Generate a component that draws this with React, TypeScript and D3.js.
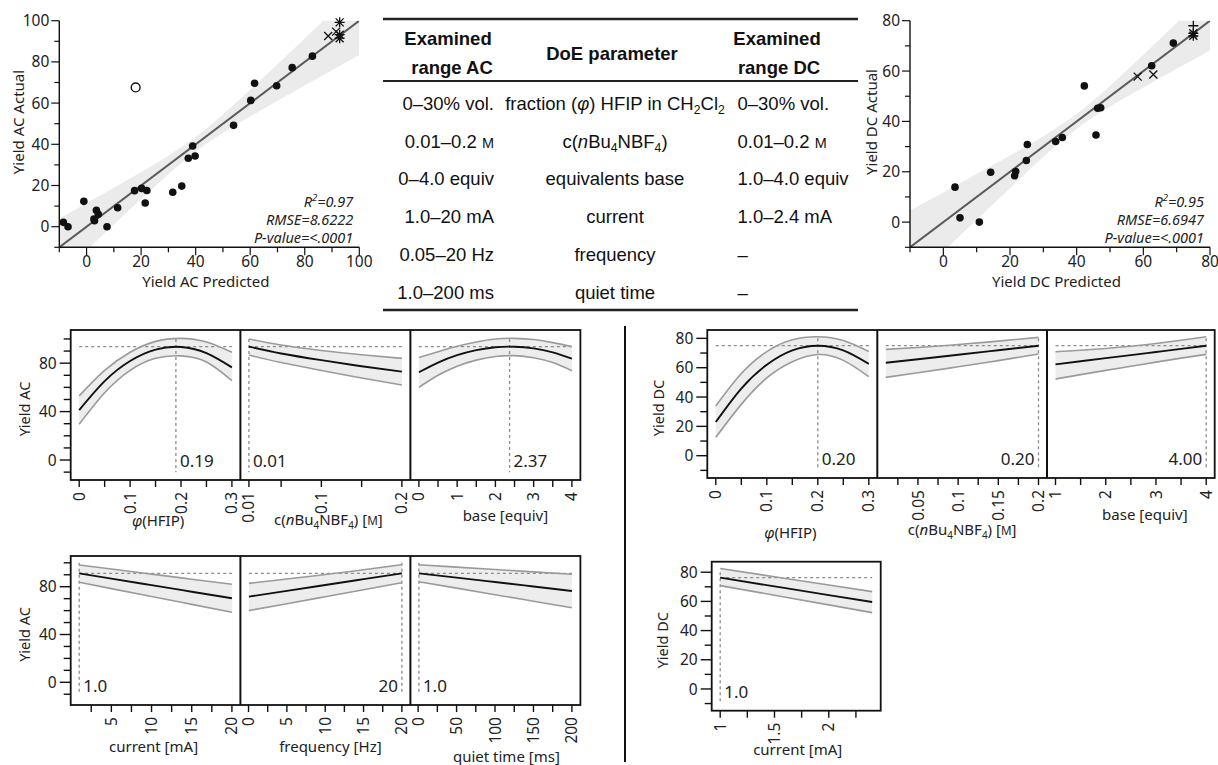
import React from 'react';
import * as d3 from 'd3';

const FONT = "'Noto Sans', 'Open Sans', 'DejaVu Sans', sans-serif";
const TABLE_FONT = "'Liberation Sans', Arial, Helvetica, sans-serif";

// ---------- actual by predicted, AC ----------
const acPredicted = [-8.5, -6.8, -1, 2.7, 2.9, 3.6, 4.3, 7.5, 11.4, 17.6, 20.2, 21.5, 22.1, 31.6, 34.9, 37.3, 38.9, 39.8, 53.9, 60.2, 61.6, 69.7, 75.4, 82.8];
const acActual = [2.1, 0, 12.3, 3.7, 2.9, 8, 6, 0, 9.2, 17.5, 18.6, 11.5, 17.6, 16.7, 19.7, 33.2, 39.2, 34.3, 49.2, 61.3, 69.6, 68.4, 77.2, 82.8];
const acOpenPredicted = [18];
const acOpenActual = [67.6];
const acCrossPredicted = [88.6, 91.5];
const acCrossActual = [92.6, 94.7];
const acStarPredicted = [92.8, 92.8, 92.8];
const acStarActual = [99.2, 93.2, 91.5];
const acBandX = [-10, 0, 10, 20, 30, 40, 50, 60, 70, 80, 90, 100];
const acBandLow = [-24, -11.4, 1.1, 13.5, 25.5, 36.5, 45.5, 53.5, 61.1, 68.6, 76, 83.3];
const acBandHigh = [4, 11.4, 18.9, 26.5, 34.5, 43.5, 54.5, 66.5, 78.9, 91.4, 104, 116.7];
const acStats = ['0.97', '8.6222', '<.0001'];

// ---------- actual by predicted, DC ----------
const dcPredicted = [3.5, 5, 10.8, 14.2, 21.4, 21.7, 24.9, 25.2, 33.7, 35.7, 42.3, 45.8, 46.3, 47.2, 62.5, 69];
const dcActual = [13.9, 1.7, 0, 19.8, 18.4, 20.1, 24.5, 30.8, 32, 33.6, 54.1, 34.6, 45.2, 45.4, 62.1, 71.1];
const dcCrossPredicted = [58.3, 63];
const dcCrossActual = [57.8, 58.6];
const dcStarPredicted = [75, 75];
const dcStarActual = [75, 74];
const dcPlusPredicted = [75];
const dcPlusActual = [78];
const dcBandX = [-10, 0, 10, 20, 30, 40, 50, 60, 70, 80];
const dcBandLow = [-24.6, -11.8, 0.9, 13.5, 25.9, 37, 45.9, 53.5, 60.9, 68.2];
const dcBandHigh = [4.6, 11.8, 19.1, 26.5, 34.1, 43, 54.1, 66.5, 79.1, 91.8];
const dcStats = ['0.95', '6.6947', '<.0001'];

// ---------- table (markup: _italic_, ~sub~, ^small caps^) ----------
const rangeAC = ['0–30% vol.', '0.01–0.2 ^M^', '0–4.0 equiv', '1.0–20 mA', '0.05–20 Hz', '1.0–200 ms'];
const doeParameter = ['fraction (_φ_) HFIP in CH~2~Cl~2~', 'c(_n_Bu~4~NBF~4~)', 'equivalents base', 'current', 'frequency', 'quiet time'];
const rangeDC = ['0–30% vol.', '0.01–0.2 ^M^', '1.0–4.0 equiv', '1.0–2.4 mA', '–', '–'];

// ---------- prediction profiles ----------
const phiX = [0, 0.05, 0.1, 0.15, 0.2, 0.25, 0.3];
const phiTicks = [0, 0.05, 0.1, 0.15, 0.2, 0.25, 0.3];
const phiLabels = ['0', '0.1', '0.2', '0.3'];
const concX = [0.01, 0.05, 0.1, 0.15, 0.2];
const acConcTicks = [0.01, 0.05, 0.1, 0.15, 0.2];
const acConcLabels = ['0.01', '0.1', '0.2'];
const dcConcTicks = [0.025, 0.05, 0.075, 0.1, 0.125, 0.15, 0.175, 0.2];
const dcConcLabels = ['0.05', '0.1', '0.15', '0.2'];
const acBaseX = [0, 0.5, 1, 1.5, 2, 2.5, 3, 3.5, 4];
const acBaseLabels = ['0', '1', '2', '3', '4'];
const dcBaseX = [1, 1.5, 2, 2.5, 3, 3.5, 4];
const dcBaseLabels = ['1', '2', '3', '4'];
const acCurrentX = [1, 5, 10, 15, 20];
const acCurrentTicks = [2.5, 5, 7.5, 10, 12.5, 15, 17.5, 20];
const acCurrentLabels = ['5', '10', '15', '20'];
const freqX = [0.05, 5, 10, 15, 20];
const freqTicks = [0, 2.5, 5, 7.5, 10, 12.5, 15, 17.5, 20];
const freqLabels = ['0', '5', '10', '15', '20'];
const quietX = [1, 50, 100, 150, 200];
const quietTicks = [0, 25, 50, 75, 100, 125, 150, 175, 200];
const quietLabels = ['0', '50', '100', '150', '200'];
const dcCurrentX = [1, 1.5, 2, 2.4];
const dcCurrentTicks = [1, 1.25, 1.5, 1.75, 2, 2.25];
const dcCurrentLabels = ['1', '1.5', '2'];

const acYieldLabels = [0, 40, 80];
const dcYieldLabels = [0, 20, 40, 60, 80];

const acPhiMid = [41.3, 65.2, 81.8, 91.2, 93.4, 88.3, 76.5];
const acPhiHi = [53, 74, 89, 98, 100.5, 97.5, 89];
const acPhiLo = [29.5, 55.5, 74, 84, 86, 81, 65.6];
const acConcMid = [93.7, 88, 82.5, 77.5, 73];
const acConcHi = [100, 95, 90.5, 87, 84];
const acConcLo = [86.8, 80.5, 74, 67.8, 62];
const acBaseMid = [72.5, 80.5, 86.6, 90.8, 93.2, 93.6, 92.2, 88.9, 83.7];
const acBaseHi = [84.6, 89.5, 94, 97.5, 100, 100.5, 99.5, 97, 93.7];
const acBaseLo = [60, 70, 77.5, 82.5, 85.5, 86.2, 84.5, 80.5, 73.8];
const acCurrentMid = [91.2, 86.8, 81.3, 75.8, 70.3];
const acCurrentHi = [98.2, 94.8, 90.5, 86.3, 82];
const acCurrentLo = [83.7, 78.4, 71.8, 65.2, 58.6];
const acFreqMid = [71.7, 76.5, 81.4, 86.3, 91.2];
const acFreqHi = [82.8, 86.5, 90.2, 94.2, 98.4];
const acFreqLo = [60, 65.8, 71.6, 77.5, 83.3];
const acQuietMid = [91.2, 87.6, 83.9, 80.2, 76.4];
const acQuietHi = [98.4, 96.4, 94.4, 92.4, 90.4];
const acQuietLo = [84.2, 78.8, 73.3, 67.9, 62.4];

const dcPhiMid = [23, 45.8, 62, 71.8, 75, 71.8, 62.6];
const dcPhiHi = [33.9, 56, 71, 79, 81.1, 78.5, 71];
const dcPhiLo = [12.5, 35, 53, 64, 69, 65, 53.9];
const dcConcMid = [63.4, 65.8, 68.8, 71.9, 75];
const dcConcHi = [72.5, 73.8, 75.8, 78.1, 80.7];
const dcConcLo = [53.4, 56.6, 60.6, 64.8, 69.3];
const dcBaseMid = [62.3, 64.4, 66.5, 68.6, 70.7, 72.8, 75];
const dcBaseHi = [70.9, 71.9, 73.1, 74.6, 76.5, 78.7, 81.1];
const dcBaseLo = [52.3, 55.3, 58.2, 61, 63.8, 66.5, 69.1];
const dcCurrentMid = [76.3, 70.3, 64.3, 59.6];
const dcCurrentHi = [82.5, 76.9, 71.2, 66.7];
const dcCurrentLo = [70.8, 64.2, 57.6, 52.3];

// ---------- small helpers ----------
function rich(text: string, size: number) {
  const parts = text.split(/(_[^_]+_|~[^~]+~|\^[^^]+\^)/).filter(Boolean);
  let shift = 0;
  return parts.map((p, i) => {
    if (p[0] === '~') {
      const dy = size * 0.24 - shift;
      shift = size * 0.24;
      return <tspan key={i} dy={dy} fontSize={size * 0.66}>{p.slice(1, -1)}</tspan>;
    }
    const dy = -shift;
    shift = 0;
    if (p[0] === '_') return <tspan key={i} dy={dy} fontStyle="italic">{p.slice(1, -1)}</tspan>;
    if (p[0] === '^') return <tspan key={i} dy={dy} fontSize={size * 0.78}>{p.slice(1, -1)}</tspan>;
    return <tspan key={i} dy={dy}>{p}</tspan>;
  });
}

const CROSS = 'M-4,-4L4,4M-4,4L4,-4';
const PLUS = 'M0,-5L0,5M-5,0L5,0';
const STAR = CROSS + PLUS;

type Box = { left: number; right: number; top: number; bottom: number };

function Scatter(props: {
  id: string; box: Box; max: number;
  px: number[]; py: number[];
  ox?: number[]; oy?: number[];
  cx: number[]; cy: number[];
  sx: number[]; sy: number[];
  plx?: number[]; ply?: number[];
  bandX: number[]; bandLow: number[]; bandHigh: number[];
  xTitle: string; yTitle: string; yTitleX: number; stats: string[];
}) {
  const { box, max } = props;
  const x = d3.scaleLinear().domain([-10, max]).range([box.left, box.right]);
  const y = d3.scaleLinear().domain([-10, max]).range([box.bottom, box.top]);
  const minor = d3.range(-10, max + 1, 10);
  const major = d3.range(0, max + 1, 20);
  const idx = d3.range(props.bandX.length);
  const band = d3.area<number>()
    .x(k => x(props.bandX[k])).y0(k => y(props.bandLow[k])).y1(k => y(props.bandHigh[k]))
    .curve(d3.curveNatural)(idx) || '';
  const marks = (xs: number[] = [], ys: number[] = [], d: string) =>
    xs.map((v, i) => (
      <path key={d + i} d={d} transform={`translate(${x(v)},${y(ys[i])})`} stroke="#111" strokeWidth={1.3} fill="none" />
    ));
  const sx = box.right - 6;
  return (
    <g fontFamily={FONT}>
      <clipPath id={props.id}>
        <rect x={box.left} y={box.top} width={box.right - box.left} height={box.bottom - box.top} />
      </clipPath>
      <g clipPath={`url(#${props.id})`}>
        <path d={band} fill="#ebebeb" />
        <line x1={x(-10)} y1={y(-10)} x2={x(max)} y2={y(max)} stroke="#5a5a5a" strokeWidth={2} />
      </g>
      {props.px.map((v, i) => (
        <circle key={i} cx={x(v)} cy={y(props.py[i])} r={3.8} fill="#111" />
      ))}
      {(props.ox || []).map((v, i) => (
        <circle key={'o' + i} cx={x(v)} cy={y(props.oy![i])} r={4.4} fill="none" stroke="#111" strokeWidth={1.4} />
      ))}
      {marks(props.cx, props.cy, CROSS)}
      {marks(props.sx, props.sy, STAR)}
      {marks(props.plx, props.ply, PLUS)}
      <line x1={box.left} x2={box.left} y1={box.top} y2={box.bottom} stroke="#111" strokeWidth={1.4} />
      <line x1={box.left} x2={box.right} y1={box.bottom} y2={box.bottom} stroke="#111" strokeWidth={1.4} />
      {minor.map(v => {
        const big = v % 20 === 0;
        return (
          <g key={v}>
            <line x1={box.left - (big ? 8 : 5)} x2={box.left} y1={y(v)} y2={y(v)} stroke="#111" strokeWidth={1.2} />
            <line x1={x(v)} x2={x(v)} y1={box.bottom} y2={box.bottom + (big ? 8 : 5)} stroke="#111" strokeWidth={1.2} />
          </g>
        );
      })}
      {major.map(v => (
        <g key={'l' + v} fontSize={15.5} fill="#222">
          <text x={box.left - 10} y={y(v)} dy="0.36em" textAnchor="end">{v}</text>
          <text x={x(v)} y={box.bottom + 20} textAnchor="middle">{v}</text>
        </g>
      ))}
      <text x={(box.left + box.right) / 2 - 3.5} y={box.bottom + 40} textAnchor="middle" fontSize={15} fill="#222">{props.xTitle}</text>
      <text transform={`translate(${props.yTitleX},122) rotate(-90)`} dy="0.36em" textAnchor="middle" fontSize={15} fill="#222">{props.yTitle}</text>
      <g fontSize={14.5} fontStyle="italic" fill="#222" textAnchor="end">
        <text x={sx} y={206.5}>
          <tspan>R</tspan><tspan dy={-6} fontSize={9.5}>2</tspan><tspan dy={6}>={props.stats[0]}</tspan>
        </text>
        <text x={sx} y={224.5}>RMSE={props.stats[1]}</text>
        <text x={sx} y={242.5}>P-value={props.stats[2]}</text>
      </g>
    </g>
  );
}

function DoeTable() {
  const left = 383, right = 858;
  const rowY = d3.scaleLinear().domain([0, rangeAC.length - 1]).range([110, 298.7]);
  const fs = 18.5;
  return (
    <g fontFamily={TABLE_FONT} fontSize={fs} fill="#111">
      <line x1={left} x2={right} y1={19} y2={19} stroke="#222" strokeWidth={2.4} />
      <line x1={left} x2={right} y1={81} y2={81} stroke="#222" strokeWidth={2.2} />
      <line x1={left} x2={right} y1={310} y2={310} stroke="#222" strokeWidth={2.4} />
      <g fontWeight="bold" textAnchor="middle">
        <text x={448} y={45}>Examined</text>
        <text x={452} y={74}>range AC</text>
        <text x={612} y={59.5}>DoE parameter</text>
        <text x={777} y={45}>Examined</text>
        <text x={779} y={74}>range DC</text>
      </g>
      {rangeAC.map((t, i) => (
        <g key={i}>
          <text x={494} y={rowY(i)} textAnchor="end">{rich(t, fs)}</text>
          <text x={615} y={rowY(i)} textAnchor="middle">{rich(doeParameter[i], fs)}</text>
          <text x={737.5} y={rowY(i)}>{rich(rangeDC[i], fs)}</text>
        </g>
      ))}
    </g>
  );
}

type Panel = {
  xs: number[]; mid: number[]; hi: number[]; lo: number[];
  domain: [number, number]; ticks: number[]; labels: string[];
  ref: number; refText: string; title: string; titleY: number; titleDx: number;
};
type Row = {
  edges: number[]; top: number; bottom: number; yDomain: [number, number]; yMax: number;
  yLabels: number[]; yRef: number; yTitle: string; yTitleDx: number; panels: Panel[];
};

const PAD = 8.5;

function ProfilerRow({ row }: { row: Row }) {
  const { edges, top, bottom } = row;
  const y = d3.scaleLinear().domain(row.yDomain).range([bottom, top]);
  const minorY = d3.range(-10, row.yMax + 0.1, 10);
  const left = edges[0];
  const right = edges[edges.length - 1];
  return (
    <g fontFamily={FONT} fill="#222">
      {row.panels.map((p, i) => {
        const x = d3.scaleLinear().domain(p.domain).range([edges[i] + PAD, edges[i + 1] - PAD]);
        const idx = d3.range(p.xs.length);
        const area = d3.area<number>().x(k => x(p.xs[k])).y0(k => y(p.lo[k])).y1(k => y(p.hi[k]))
          .curve(d3.curveNatural)(idx) || '';
        const line = (arr: number[]) =>
          d3.line<number>().x(k => x(p.xs[k])).y(k => y(arr[k])).curve(d3.curveNatural)(idx) || '';
        const atMax = p.ref === p.domain[1];
        const center = (edges[i] + edges[i + 1]) / 2;
        return (
          <g key={i}>
            <path d={area} fill="#ededed" />
            <line x1={x(p.domain[0])} x2={x(p.domain[1])} y1={y(row.yRef)} y2={y(row.yRef)}
              stroke="#8c8c8c" strokeWidth={1.3} strokeDasharray="3,3" />
            <line x1={x(p.ref)} x2={x(p.ref)} y1={y(row.yMax)} y2={y(-10)}
              stroke="#8c8c8c" strokeWidth={1.3} strokeDasharray="3,3" />
            <path d={line(p.hi)} fill="none" stroke="#9a9a9a" strokeWidth={1.6} />
            <path d={line(p.lo)} fill="none" stroke="#9a9a9a" strokeWidth={1.6} />
            <path d={line(p.mid)} fill="none" stroke="#111" strokeWidth={1.9} />
            <text x={x(p.ref) + (atMax ? -4 : 4)} y={bottom - 13} textAnchor={atMax ? 'end' : 'start'} fontSize={17}>
              {p.refText}
            </text>
            {p.ticks.map(t => (
              <line key={t} x1={x(t)} x2={x(t)} y1={bottom} y2={bottom + 7} stroke="#111" strokeWidth={1.4} />
            ))}
            {p.labels.map(s => (
              <text key={s} transform={`translate(${x(+s)},${bottom + 12}) rotate(-90)`} dy="0.36em"
                textAnchor="end" fontSize={15.5}>{s}</text>
            ))}
            <text x={center + p.titleDx} y={p.titleY} textAnchor="middle" fontSize={15}>{rich(p.title, 15)}</text>
          </g>
        );
      })}
      <rect x={left} y={top} width={right - left} height={bottom - top} fill="none" stroke="#111" strokeWidth={1.8} />
      {edges.slice(1, -1).map(e => (
        <line key={e} x1={e} x2={e} y1={top} y2={bottom} stroke="#111" strokeWidth={2} />
      ))}
      {minorY.map(v => (
        <line key={v} x1={left - (row.yLabels.includes(v) ? 11 : 7)} x2={left} y1={y(v)} y2={y(v)} stroke="#111" strokeWidth={1.4} />
      ))}
      {row.yLabels.map(v => (
        <text key={v} x={left - 14} y={y(v)} dy="0.36em" textAnchor="end" fontSize={15.5}>{v}</text>
      ))}
      <text transform={`translate(${left + row.yTitleDx},${(top + bottom) / 2 + 4}) rotate(-90)`} dy="0.36em"
        textAnchor="middle" fontSize={14.5}>{row.yTitle}</text>
    </g>
  );
}

const acRow1: Row = {
  edges: [70.7, 240.4, 410.4, 580.4], top: 330, bottom: 480, yDomain: [-16.5, 107.4], yMax: 100,
  yLabels: acYieldLabels, yRef: 93.7, yTitle: 'Yield AC', yTitleDx: -46,
  panels: [
    { xs: phiX, mid: acPhiMid, hi: acPhiHi, lo: acPhiLo, domain: [0, 0.3], ticks: phiTicks, labels: phiLabels,
      ref: 0.19, refText: '0.19', title: '_φ_(HFIP)', titleY: 526, titleDx: 2.5 },
    { xs: concX, mid: acConcMid, hi: acConcHi, lo: acConcLo, domain: [0.01, 0.2], ticks: acConcTicks, labels: acConcLabels,
      ref: 0.01, refText: '0.01', title: 'c(_n_Bu~4~NBF~4~) [^M^]', titleY: 525, titleDx: 3 },
    { xs: acBaseX, mid: acBaseMid, hi: acBaseHi, lo: acBaseLo, domain: [0, 4], ticks: acBaseX, labels: acBaseLabels,
      ref: 2.37, refText: '2.37', title: 'base [equiv]', titleY: 521, titleDx: 10 },
  ],
};

const acRow2: Row = {
  edges: [70.7, 240.4, 410.4, 580.4], top: 556, bottom: 705, yDomain: [-19, 105.7], yMax: 100,
  yLabels: acYieldLabels, yRef: 91.2, yTitle: 'Yield AC', yTitleDx: -46,
  panels: [
    { xs: acCurrentX, mid: acCurrentMid, hi: acCurrentHi, lo: acCurrentLo, domain: [1, 20], ticks: acCurrentTicks, labels: acCurrentLabels,
      ref: 1, refText: '1.0', title: 'current [mA]', titleY: 752, titleDx: -2 },
    { xs: freqX, mid: acFreqMid, hi: acFreqHi, lo: acFreqLo, domain: [0.05, 20], ticks: freqTicks, labels: freqLabels,
      ref: 20, refText: '20', title: 'frequency [Hz]', titleY: 752, titleDx: 5 },
    { xs: quietX, mid: acQuietMid, hi: acQuietHi, lo: acQuietLo, domain: [1, 200], ticks: quietTicks, labels: quietLabels,
      ref: 1, refText: '1.0', title: 'quiet time [ms]', titleY: 762, titleDx: 11 },
  ],
};

const dcRow1: Row = {
  edges: [707.3, 877.3, 1047, 1214.7], top: 330, bottom: 478, yDomain: [-15.2, 85.7], yMax: 80,
  yLabels: dcYieldLabels, yRef: 75, yTitle: 'Yield DC', yTitleDx: -49,
  panels: [
    { xs: phiX, mid: dcPhiMid, hi: dcPhiHi, lo: dcPhiLo, domain: [0, 0.3], ticks: phiTicks, labels: phiLabels,
      ref: 0.2, refText: '0.20', title: '_φ_(HFIP)', titleY: 538, titleDx: -2 },
    { xs: concX, mid: dcConcMid, hi: dcConcHi, lo: dcConcLo, domain: [0.01, 0.2], ticks: dcConcTicks, labels: dcConcLabels,
      ref: 0.2, refText: '0.20', title: 'c(_n_Bu~4~NBF~4~) [^M^]', titleY: 535, titleDx: 0 },
    { xs: dcBaseX, mid: dcBaseMid, hi: dcBaseHi, lo: dcBaseLo, domain: [1, 4], ticks: dcBaseX, labels: dcBaseLabels,
      ref: 4, refText: '4.00', title: 'base [equiv]', titleY: 520, titleDx: 14 },
  ],
};

const dcRow2: Row = {
  edges: [711.7, 880.7], top: 561.7, bottom: 710.7, yDomain: [-14.9, 87.2], yMax: 80,
  yLabels: dcYieldLabels, yRef: 76.3, yTitle: 'Yield DC', yTitleDx: -49,
  panels: [
    { xs: dcCurrentX, mid: dcCurrentMid, hi: dcCurrentHi, lo: dcCurrentLo, domain: [1, 2.4], ticks: dcCurrentTicks, labels: dcCurrentLabels,
      ref: 1, refText: '1.0', title: 'current [mA]', titleY: 755, titleDx: 1.5 },
  ],
};

export default function App() {
  return (
    <>
      <style>{'body{margin:0;background:#fff}'}</style>
      <svg width={1218} height={765} style={{ display: 'block', background: '#fff' }}>
        <Scatter id="acClip" box={{ left: 59.3, right: 359.3, top: 20.7, bottom: 247.3 }} max={100}
          px={acPredicted} py={acActual} ox={acOpenPredicted} oy={acOpenActual}
          cx={acCrossPredicted} cy={acCrossActual} sx={acStarPredicted} sy={acStarActual}
          bandX={acBandX} bandLow={acBandLow} bandHigh={acBandHigh}
          xTitle="Yield AC Predicted" yTitle="Yield AC Actual" yTitleX={18.3} stats={acStats} />
        <Scatter id="dcClip" box={{ left: 910, right: 1210, top: 20.7, bottom: 247.3 }} max={80}
          px={dcPredicted} py={dcActual}
          cx={dcCrossPredicted} cy={dcCrossActual} sx={dcStarPredicted} sy={dcStarActual}
          plx={dcPlusPredicted} ply={dcPlusActual}
          bandX={dcBandX} bandLow={dcBandLow} bandHigh={dcBandHigh}
          xTitle="Yield DC Predicted" yTitle="Yield DC Actual" yTitleX={871.7} stats={dcStats} />
        <DoeTable />
        <ProfilerRow row={acRow1} />
        <ProfilerRow row={acRow2} />
        <ProfilerRow row={dcRow1} />
        <ProfilerRow row={dcRow2} />
        <line x1={625} x2={625} y1={326} y2={762} stroke="#111" strokeWidth={2} />
      </svg>
    </>
  );
}
